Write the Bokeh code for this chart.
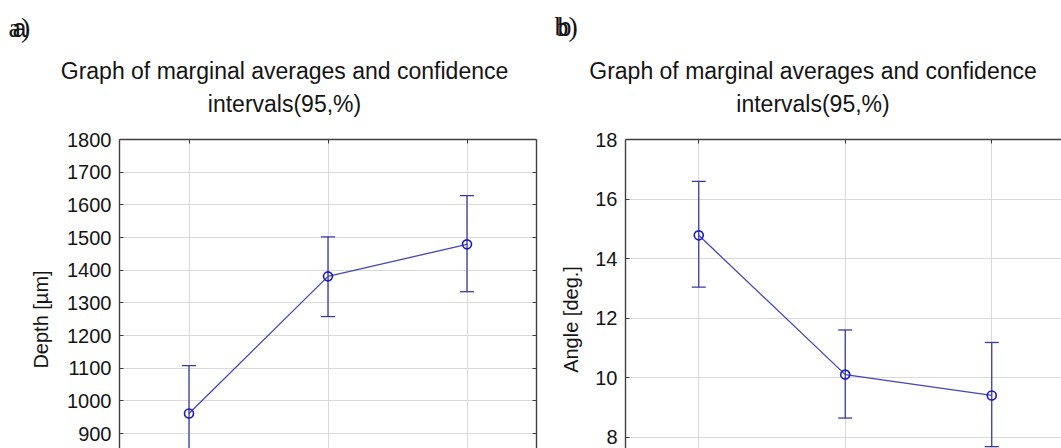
import math
from bokeh.plotting import figure
from bokeh.layouts import row
from bokeh.models import (FixedTicker, LinearAxis, Label, Whisker, TeeHead,
                          ColumnDataSource, Range1d)
from bokeh.embed import file_html
from bokeh.resources import INLINE

# ---------------- data ----------------
levels = [1, 2, 3]
depth_mean = [961, 1381, 1479]
depth_low = [814, 1258, 1334]
depth_high = [1108, 1502, 1628]
angle_mean = [14.78, 10.10, 9.40]
angle_low = [13.04, 8.64, 7.68]
angle_high = [16.59, 11.60, 11.18]

depth_ticks = [800, 900, 1000, 1100, 1200, 1300, 1400, 1500, 1600, 1700, 1800]
angle_ticks = [8, 10, 12, 14, 16, 18]

title_line1 = "Graph of marginal averages and confidence"
title_line2 = "intervals(95,%)"

# ---------------- style ----------------
FONT = "Liberation Sans"
LINE_C = "#4545b8"
MARK_C = "#1a1ac4"
ERR_C = "#3a3aa6"
GRID_C = "#dadada"
FRAME_C = "#3f3f3f"
TXT_C = "#141414"

H = 448
FRAME_TOP = 139

# left panel geometry (page pixels)
L_W = 542
L_FL, L_FR = 119, 536
L_YMAX = 1800
L_PXU = 294 / 900.0
L_YMIN = L_YMAX - (H - FRAME_TOP) / L_PXU
L_XPU = (L_FR - L_FL) / 3.0

# right panel geometry (page pixels)
R_X0 = L_W
R_W = 1061 - L_W
R_FL = 625
R_XPU = 146.5
R_YMAX = 18
R_PXU = (436.6 - 139) / 10.0
R_YMIN = R_YMAX - (H - FRAME_TOP) / R_PXU


def lx(px):
    return 0.5 + (px - L_FL) / L_XPU


def ly(py):
    return L_YMAX - (py - FRAME_TOP) / L_PXU


def rx(px):
    return 0.5 + (px - R_FL) / R_XPU


def ry(py):
    return R_YMAX - (py - FRAME_TOP) / R_PXU


def frame_axis(ax, ticks):
    ax.ticker = FixedTicker(ticks=ticks)
    ax.major_label_overrides = {t: "" for t in ticks}
    ax.major_label_text_color = None
    ax.major_label_standoff = 0
    ax.major_tick_in = 4
    ax.major_tick_out = 0
    ax.minor_tick_line_color = None
    ax.axis_line_color = FRAME_C
    ax.axis_line_width = 1.4
    ax.major_tick_line_color = FRAME_C


def make_panel(width, bl, br, xr, yr, ticks, right_axis):
    p = figure(width=width, height=H, output_backend="svg", toolbar_location=None,
               x_range=xr, y_range=yr, x_axis_location="above",
               min_border_left=bl, min_border_right=br, min_border_top=FRAME_TOP,
               min_border_bottom=0)
    p.outline_line_color = None
    p.background_fill_color = "white"
    p.border_fill_color = "white"

    frame_axis(p.xaxis[0], levels)

    ya = p.yaxis[0]
    ya.ticker = FixedTicker(ticks=ticks)
    ya.major_label_text_font = FONT
    ya.major_label_text_font_size = "20px"
    ya.major_label_text_line_height = 0.85
    ya.major_label_text_color = TXT_C
    ya.major_label_standoff = 8
    ya.major_tick_in = 4
    ya.major_tick_out = 0
    ya.minor_tick_line_color = None
    ya.axis_line_color = FRAME_C
    ya.axis_line_width = 1.4
    ya.major_tick_line_color = FRAME_C

    if right_axis:
        ra = LinearAxis()
        frame_axis(ra, ticks)
        p.add_layout(ra, "right")

    p.xgrid.ticker = FixedTicker(ticks=levels)
    p.ygrid.ticker = FixedTicker(ticks=ticks)
    for g in (p.xgrid, p.ygrid):
        g.grid_line_color = GRID_C
        g.grid_line_width = 1
    return p


def add_series(p, means, lows, highs, cap):
    src = ColumnDataSource(dict(x=levels, y=means, lo=lows, hi=highs))
    w = Whisker(source=src, base="x", lower="lo", upper="hi", dimension="height",
                line_color=ERR_C, line_width=1.3,
                upper_head=TeeHead(size=cap, line_color=ERR_C, line_width=1.3),
                lower_head=TeeHead(size=cap, line_color=ERR_C, line_width=1.3))
    p.add_layout(w)
    p.line("x", "y", source=src, line_color=LINE_C, line_width=1.3)
    p.scatter("x", "y", source=src, marker="circle", size=9, fill_color=None,
              line_color=MARK_C, line_width=1.6)


def add_text(p, side, x, y, text, size, align="center", baseline="middle",
             angle=0.0, font=FONT):
    p.add_layout(Label(x=x, y=y, text=text, text_font=font, text_font_size=size,
                       text_color=TXT_C, text_align=align, text_baseline=baseline,
                       angle=angle), side)


# ---------------- left panel ----------------
pl = make_panel(L_W, L_FL, L_W - L_FR, Range1d(0.5, 3.5), Range1d(L_YMIN, L_YMAX),
                depth_ticks, True)
add_series(pl, depth_mean, depth_low, depth_high, 14)
add_text(pl, "above", lx(284), ly(70), title_line1, "23px")
add_text(pl, "above", lx(284), ly(103.5), title_line2, "23px")
add_text(pl, "left", lx(40), ly(319), "Depth [µm]", "20px", angle=math.pi / 2)
add_text(pl, "above", lx(12), ly(27), "a", "25px", align="left")
add_text(pl, "above", lx(8), ly(27), "a)", "28px", align="left", font="Liberation Serif")

# ---------------- right panel ----------------
r_xmax = 0.5 + (1061 - R_FL) / R_XPU
pr = make_panel(R_W, R_FL - R_X0, 0, Range1d(0.5, r_xmax), Range1d(R_YMIN, R_YMAX),
                angle_ticks, False)
add_series(pr, angle_mean, angle_low, angle_high, 14)
add_text(pr, "above", rx(812.5), ry(70), title_line1, "23px")
add_text(pr, "above", rx(812.5), ry(103.5), title_line2, "23px")
add_text(pr, "left", rx(570), ry(319), "Angle [deg.]", "20px", angle=math.pi / 2)
add_text(pr, "above", rx(557), ry(26), "b", "25px", align="left")
add_text(pr, "above", rx(554), ry(26), "b)", "28px", align="left", font="Liberation Serif")

layout = row(pl, pr, spacing=0)
open("out.html", "w").write(file_html(layout, INLINE))
